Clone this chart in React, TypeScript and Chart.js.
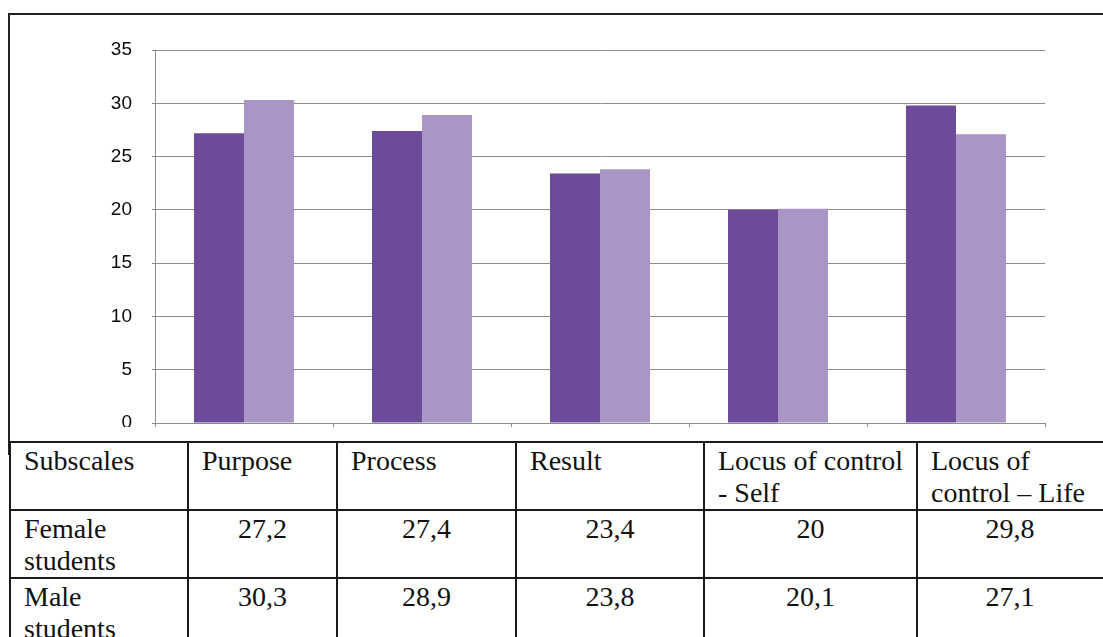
import React, { useEffect, useRef } from "react";
import { Chart, registerables } from "chart.js";

Chart.register(...registerables);

const categories = ["Purpose", "Process", "Result", "Locus of control - Self", "Locus of control – Life"];
const femaleValues = [27.2, 27.4, 23.4, 20, 29.8];
const maleValues = [30.3, 28.9, 23.8, 20.1, 27.1];
const yTicks = [0, 5, 10, 15, 20, 25, 30, 35];
const headerLabels: React.ReactNode[] = [
  "Purpose",
  "Process",
  "Result",
  <>Locus of control<br />- Self</>,
  <>Locus of<br />control – Life</>,
];
const rowLabels: React.ReactNode[] = [<>Female<br />students</>, <>Male<br />students</>];
const fmt = (v: number) => String(v).replace(".", ",");

const DARK = "#6c4c99";
const LIGHT = "#a995c6";
const GRID = "#8c8c8c";

export default function App() {
  const ref = useRef<HTMLCanvasElement | null>(null);

  useEffect(() => {
    if (!ref.current) return;
    const chart = new Chart(ref.current, {
      type: "bar",
      data: {
        labels: categories,
        datasets: [
          { label: "Female students", data: femaleValues, backgroundColor: DARK, borderWidth: 0 },
          { label: "Male students", data: maleValues, backgroundColor: LIGHT, borderWidth: 0 },
        ],
      },
      options: {
        responsive: false,
        animation: false,
        layout: { padding: { left: 100, right: 58, top: 50, bottom: 57 } },
        datasets: { bar: { categoryPercentage: 0.562, barPercentage: 1.0 } },
        plugins: { legend: { display: false }, tooltip: { enabled: false } },
        scales: {
          x: {
            offset: true,
            ticks: { display: false },
            grid: { display: true, drawOnChartArea: false, drawTicks: true, tickLength: 4, color: GRID, offset: true },
            border: { display: true, color: GRID, width: 1 },
            afterFit: (s: any) => { s.height = 0; },
          },
          y: {
            min: 0,
            max: 35,
            afterBuildTicks: (s: any) => { s.ticks = yTicks.map((v) => ({ value: v })); },
            ticks: {
              padding: 20,
              color: "#0a0a0a",
              font: { family: "'Liberation Sans', Arial, sans-serif", size: 19 },
            },
            grid: { color: GRID, lineWidth: 1, tickLength: 3 },
            border: { display: true, color: GRID, width: 1 },
            afterFit: (s: any) => { s.width = 55; },
          },
        },
      },
    });
    return () => chart.destroy();
  }, []);

  const cellBase: React.CSSProperties = {
    border: "2px solid #1a1a1a",
    padding: "2px 10px 0 13px",
    verticalAlign: "top",
    lineHeight: "32px",
    height: 64,
    overflow: "hidden",
    whiteSpace: "nowrap",
  };

  return (
    <div
      style={{
        position: "fixed",
        left: 0,
        top: 0,
        width: 1103,
        height: 637,
        overflow: "hidden",
        background: "#fff",
      }}
    >
      <div
        style={{
          position: "absolute",
          left: 8,
          top: 13,
          width: 1200,
          height: 440,
          borderTop: "2px solid #222",
          borderLeft: "2px solid #222",
        }}
      />
      <div style={{ position: "absolute", left: 0, top: 0, width: 1103, height: 427, overflow: "hidden" }}>
        <canvas ref={ref} width={1103} height={480} style={{ display: "block" }} />
      </div>
      <table
        style={{
          position: "absolute",
          left: 9,
          top: 441,
          width: 1208,
          borderCollapse: "collapse",
          tableLayout: "fixed",
          fontFamily: "'Liberation Serif', 'Times New Roman', serif",
          fontSize: 28,
          color: "#111",
        }}
      >
        <colgroup>
          <col style={{ width: 178 }} />
          <col style={{ width: 149 }} />
          <col style={{ width: 179 }} />
          <col style={{ width: 188 }} />
          <col style={{ width: 213 }} />
          <col style={{ width: 301 }} />
        </colgroup>
        <tbody>
          <tr>
            <td style={{ ...cellBase, textAlign: "left" }}>Subscales</td>
            {headerLabels.map((h, i) => (
              <td key={i} style={{ ...cellBase, textAlign: "left" }}>{h}</td>
            ))}
          </tr>
          <tr>
            <td style={{ ...cellBase, textAlign: "left" }}>{rowLabels[0]}</td>
            {femaleValues.map((v, i) => (
              <td key={i} style={{ ...cellBase, textAlign: "center", padding: "2px 0 0 0", ...(i === 4 ? { paddingRight: 115 } : {}) }}>{fmt(v)}</td>
            ))}
          </tr>
          <tr>
            <td style={{ ...cellBase, textAlign: "left" }}>{rowLabels[1]}</td>
            {maleValues.map((v, i) => (
              <td key={i} style={{ ...cellBase, textAlign: "center", padding: "2px 0 0 0", ...(i === 4 ? { paddingRight: 115 } : {}) }}>{fmt(v)}</td>
            ))}
          </tr>
        </tbody>
      </table>
    </div>
  );
}
